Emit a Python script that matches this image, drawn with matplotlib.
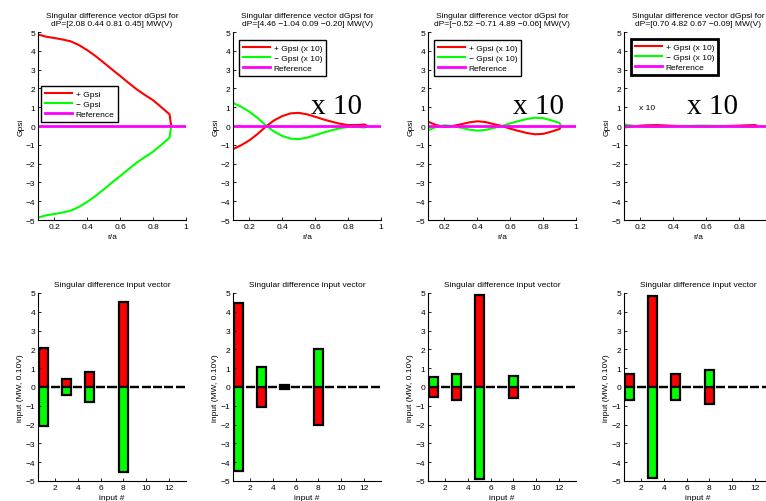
import matplotlib
matplotlib.use("Agg")
import matplotlib.pyplot as plt
import numpy as np

plt.rcParams['font.family'] = ['Liberation Sans', 'DejaVu Sans']
plt.rcParams['font.size'] = 6

# Radial grid (r/a) for the dGpsi profiles
r = [0.10, 0.15, 0.20, 0.25, 0.30, 0.35, 0.40, 0.45, 0.50, 0.55,
     0.60, 0.65, 0.70, 0.75, 0.80, 0.85, 0.90, 0.91]

# dGpsi profiles for each singular direction (panels 2-4 are shown x 10)
gpsi_1 = [4.87, 4.75, 4.68, 4.60, 4.50, 4.30, 4.03, 3.72, 3.37, 3.01,
          2.66, 2.30, 1.95, 1.65, 1.37, 1.00, 0.62, 0.00]
gpsi_2 = [-1.23, -1.02, -0.76, -0.42, -0.03, 0.30, 0.53, 0.67, 0.70, 0.62,
          0.49, 0.35, 0.23, 0.12, 0.05, 0.05, 0.08, 0.03]
gpsi_3 = [0.23, 0.05, -0.04, 0.00, 0.09, 0.19, 0.25, 0.21, 0.10, 0.00,
          -0.14, -0.26, -0.37, -0.44, -0.42, -0.30, -0.16, 0.00]
gpsi_4 = [-0.08, -0.02, 0.02, 0.04, 0.05, 0.03, 0.01, 0.00, -0.01, -0.02,
          -0.02, -0.01, 0.00, 0.01, 0.02, 0.04, 0.05, 0.00]
gpsi_profiles = [gpsi_1, gpsi_2, gpsi_3, gpsi_4]

# Reference profile
r_ref = [0.10, 1.00]
gpsi_ref = [0.0, 0.0]

# Actuator changes dP (MW for powers, V for the last one)
dP_1 = [2.08, 0.44, 0.81, 0.45]
dP_2 = [4.46, -1.04, 0.09, -0.20]
dP_3 = [-0.52, -0.71, 4.89, -0.06]
dP_4 = [0.70, 4.82, 0.67, -0.09]
dP_all = [dP_1, dP_2, dP_3, dP_4]

# Input numbers carrying each dP component and unit scaling (V shown as 0.10V)
n_inputs = 13
input_index = [1, 3, 5, 8]
input_scale = [1, 1, 1, 10]

legend_labels = [
    ['+ Gpsi', '\u2212 Gpsi', 'Reference'],
    ['+ Gpsi (x 10)', '\u2212 Gpsi (x 10)', 'Reference'],
    ['+ Gpsi (x 10)', '\u2212 Gpsi (x 10)', 'Reference'],
    ['+ Gpsi (x 10)', '\u2212 Gpsi (x 10)', 'Reference'],
]

W, H = 766, 502
fig = plt.figure(figsize=(W / 100, H / 100), dpi=100)

lefts = [38, 233, 428, 624]
ax_w = 148


def px_axes(left, top, bottom):
    return fig.add_axes([left / W, (H - bottom) / H, ax_w / W, (bottom - top) / H])


def style(ax):
    for s in ('top', 'right'):
        ax.spines[s].set_visible(False)
    for s in ('left', 'bottom'):
        ax.spines[s].set_linewidth(0.8)
    ax.tick_params(direction='in', length=2.5, width=0.6, labelsize=6, pad=2)
    ax.set_ylim(-5, 5)
    ax.set_yticks(range(-5, 6))


def fmt(v):
    return ('%.2f' % v).replace('-', '\u2212')


legend_anchor = [(0.02, 0.713), (0.04, 0.957), (0.04, 0.957), (0.047, 0.962)]
x10_pos = [None, (0.574, 0.67), (0.617, 0.67), (0.483, 0.70)]

for k in range(4):
    ax = px_axes(lefts[k], 33, 221)
    style(ax)
    prof = np.array(gpsi_profiles[k])
    ax.plot(r, prof, color=(1, 0, 0), lw=1.5, label=legend_labels[k][0])
    ax.plot(r, -prof, color=(0, 1, 0), lw=1.5, label=legend_labels[k][1])
    ax.plot(r_ref, gpsi_ref, color=(1, 0, 1), lw=2.0, label=legend_labels[k][2])
    ax.set_xlim(0.1, 1.0)
    if k < 3:
        ax.set_xticks([0.2, 0.4, 0.6, 0.8, 1.0])
        ax.set_xticklabels(['0.2', '0.4', '0.6', '0.8', '1'])
    else:
        ax.set_xticks([0.2, 0.4, 0.6, 0.8])
        ax.set_xticklabels(['0.2', '0.4', '0.6', '0.8'])
    ax.set_xlabel('r/a', fontsize=6, labelpad=2)
    ax.set_ylabel('Gpsi', fontsize=6, labelpad=1)
    ax.set_title('Singular difference vector dGpsi for\ndP=[' +
                 ' '.join(fmt(v) for v in dP_all[k]) + '] MW(V)',
                 fontsize=6, pad=5, linespacing=1.25)
    leg = ax.legend(loc='upper left', bbox_to_anchor=legend_anchor[k],
                    borderaxespad=0, fontsize=6, fancybox=False,
                    framealpha=1, edgecolor='black', handlelength=3.3,
                    handletextpad=0.4, labelspacing=0.3, borderpad=0.45)
    leg.get_frame().set_linewidth(2.0 if k == 3 else 1.0)
    if x10_pos[k] is not None:
        ax.text(x10_pos[k][0], x10_pos[k][1], 'x 10', fontsize=21,
                family=['Liberation Serif', 'DejaVu Serif'], va='baseline')
    if k == 3:
        ax.text(0.19, 1.0, 'x 10', fontsize=6, va='center')

inputs = np.arange(1, n_inputs + 1)
for k in range(4):
    ax = px_axes(lefts[k], 294, 482)
    style(ax)
    vals = np.zeros(n_inputs)
    for idx, sc, v in zip(input_index, input_scale, dP_all[k]):
        vals[idx - 1] = v * sc
    ax.bar(inputs, vals, width=0.8, color=(1, 0, 0), edgecolor='black', linewidth=1.6)
    ax.bar(inputs, -vals, width=0.8, color=(0, 1, 0), edgecolor='black', linewidth=1.6)
    ax.set_xlim(0.5, 13.5)
    ax.set_xticks([2, 4, 6, 8, 10, 12])
    ax.set_xlabel('input #', fontsize=6, labelpad=2)
    ax.set_ylabel('input (MW, 0.10V)', fontsize=6, labelpad=1)
    ax.set_title('Singular difference input vector', fontsize=6, pad=5)

fig.savefig('out.png', dpi=100, facecolor='white')
